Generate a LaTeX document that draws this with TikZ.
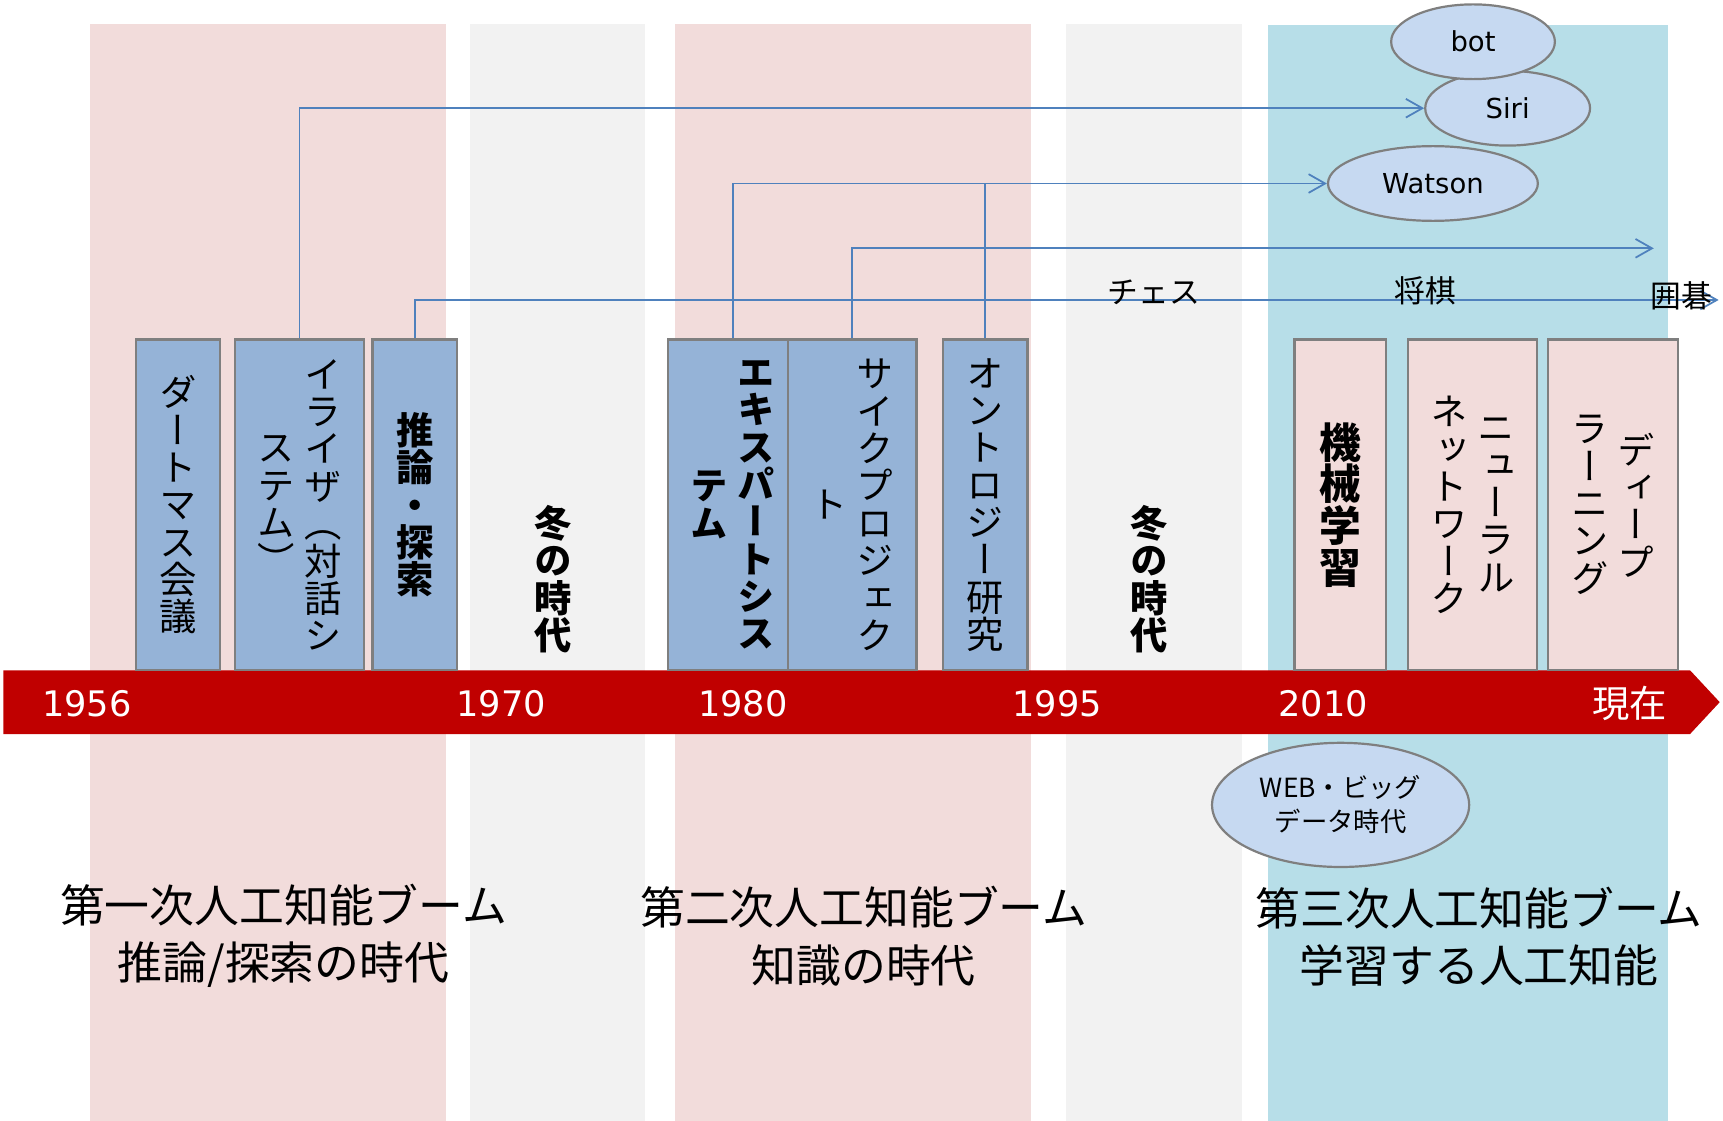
\documentclass[tikz,border=0pt]{standalone}
\usepackage{fontspec}
\setmainfont{DejaVu Sans}
\newfontfamily\jp{Noto Sans CJK JP}
\newfontfamily\jpv[RawFeature=+vert]{Noto Sans CJK JP}
\usetikzlibrary{shapes,%
	arrows.meta,%
	positioning%
}

\definecolor{bgpink}{HTML}{F2DCDB}
\definecolor{bggray}{HTML}{F2F2F2}
\definecolor{bgblue}{HTML}{B7DEE8}
\definecolor{bandred}{HTML}{C00000}
\definecolor{boxblue}{HTML}{95B3D7}
\definecolor{boxpink}{HTML}{F2DCDB}
\definecolor{ellblue}{HTML}{C6D9F1}
\definecolor{edgegray}{HTML}{7F7F7F}
\definecolor{linkblue}{HTML}{4F81BD}

% vertical writing: one column of characters, columns set right to left
\makeatletter
\newcommand\tatecol[1]{\vcenter{\baselineskip=1em\lineskiplimit=-\maxdimen
	\@tfor\tc:=#1\do{\hbox to 1em{\hss\tc\hss}}}}
\makeatother
\newcommand\tate[1]{$\tatecol{#1}$}
\newcommand\tatepair[2]{$\tatecol{#2}\hskip.25em\tatecol{#1}$}

\tikzset{
	tatefont/.style={font=\jpv\fontsize{17pt}{17pt}\selectfont},
	tatebold/.style={font=\jpv\bfseries\fontsize{17pt}{17pt}\selectfont},
	tatebig/.style={font=\jpv\bfseries\fontsize{19pt}{19pt}\selectfont},
}

\begin{document}
\begin{tikzpicture}[x=0.5pt, y=-0.5pt]
	\useasboundingbox (0,0) rectangle (1568,1020);
	% eras
	\fill[bgpink] (82,22) rectangle (406,1020);
	\fill[bggray] (428,22) rectangle (587,1020);
	\fill[bgpink] (614,22) rectangle (938,1020);
	\fill[bggray] (970,22) rectangle (1130,1020);
	\fill[bgblue] (1154,23) rectangle (1518,1020);
	% time axis
	\fill[bandred] (3,610) -- (1538,610) -- (1565,639) -- (1538,668) -- (3,668) -- cycle;
	
	\begin{scope}[every node/.style={draw=edgegray, line width=1pt, fill=boxblue,
		inner sep=0pt, minimum height=150.5pt}]
	\node[minimum width=38pt, tatefont] (DM) at (162,459.5) {\tate{ダートマス会議}};
	\node[minimum width=58.5pt, tatefont] (EL) at (272.5,459.5) {\tatepair{イライザ（対話シ}{ステム）}};
	\node[minimum width=38.5pt, tatebold] (SU) at (377.5,459.5) {\tate{推論・探索}};
	\node[minimum width=59pt, tatebold] (EX) at (667,459.5) {\tatepair{エキスパートシス}{テム}};
	\node[minimum width=58.5pt, tatefont] (CY) at (775.5,459.5) {\tatepair{サイクプロジェク}{ト}};
	\node[minimum width=38.5pt, tatefont] (ON) at (896.5,459.5) {\tate{オントロジー研究}};
	\end{scope}
	
	\begin{scope}[every node/.style={draw=edgegray, line width=1pt, fill=boxpink,
		inner sep=0pt, minimum height=150.5pt}]
	\node[minimum width=41.5pt, tatebig] (ML) at (1219.5,459.5) {\tate{機械学習}};
	\node[minimum width=59pt, tatefont] (NN) at (1340,459.5) {\tatepair{ニューラル}{ネットワーク}};
	\node[minimum width=59pt, tatefont] (DL) at (1468,459.5) {\tatepair{ディープ}{ラーニング}};
	\end{scope}
	
	\node[tatebold] (W1) at (503,527) {\tate{冬の時代}};
	\node[tatebold] (W2) at (1046,527) {\tate{冬の時代}};
	
	\begin{scope}[every node/.style={ellipse, draw=edgegray, line width=1pt, fill=ellblue,
		inner sep=0pt, minimum height=34pt, font=\fontsize{12.5pt}{15pt}\selectfont}]
	\node[minimum width=75pt] (SI) at (1372,98.5) {Siri};
	\node[minimum width=74.5pt] (BO) at (1340.5,38) {bot};
	\node[minimum width=95.5pt] (WA) at (1304,167) {Watson};
	\node[minimum width=117pt, minimum height=56.5pt, align=center,
		font=\jp\fontsize{12pt}{15.5pt}\selectfont] (WB) at (1220,732.5) {WEB・ビッグ\\データ時代};
	\end{scope}
	
	\coordinate (CYend) at (1505,226);
	\coordinate (SUend) at (1564,273);
	\begin{scope}[every path/.style={draw=linkblue, line width=0.8pt},
		>={Straight Barb[length=7.5pt,width=8.5pt]}]
	\path [->] (EL.north) |- (SI.west);
	\path [->] (EX.north) |- (WA.west);
	\path (ON.north) -- (ON.north |- WA.west);
	\path [->] (CY.north) |- (CYend);
	\path [->] (SU.north) |- (SUend);
	\end{scope}
	
	\begin{scope}[every node/.style={font=\jp\fontsize{14pt}{14pt}\selectfont}]
	\node (CH) at (1050,266) {チェス};
	\node (SH) at (1297,265) {将棋};
	\node (GO) at (1530,269) {囲碁};
	\end{scope}
	
	\begin{scope}[every node/.style={text=white, font=\fontsize{16pt}{16pt}\selectfont}]
	\node (Y1) at (79,640) {1956};
	\node (Y2) at (456,640) {1970};
	\node (Y3) at (676,640) {1980};
	\node (Y4) at (962,640) {1995};
	\node (Y5) at (1204,640) {2010};
	\node[font=\jp\fontsize{17pt}{17pt}\selectfont] (Y6) at (1483,640) {現在};
	\end{scope}
	
	\begin{scope}[every node/.style={align=center, font=\jp\fontsize{20.4pt}{26pt}\selectfont}]
	\node (B1) at (258,852) {第一次人工知能ブーム\\推論/探索の時代};
	\node (B2) at (786,852) {第二次人工知能ブーム\\知識の時代};
	\node (B3) at (1346,852) {第三次人工知能ブーム\\学習する人工知能};
	\end{scope}
\end{tikzpicture}
\end{document}
